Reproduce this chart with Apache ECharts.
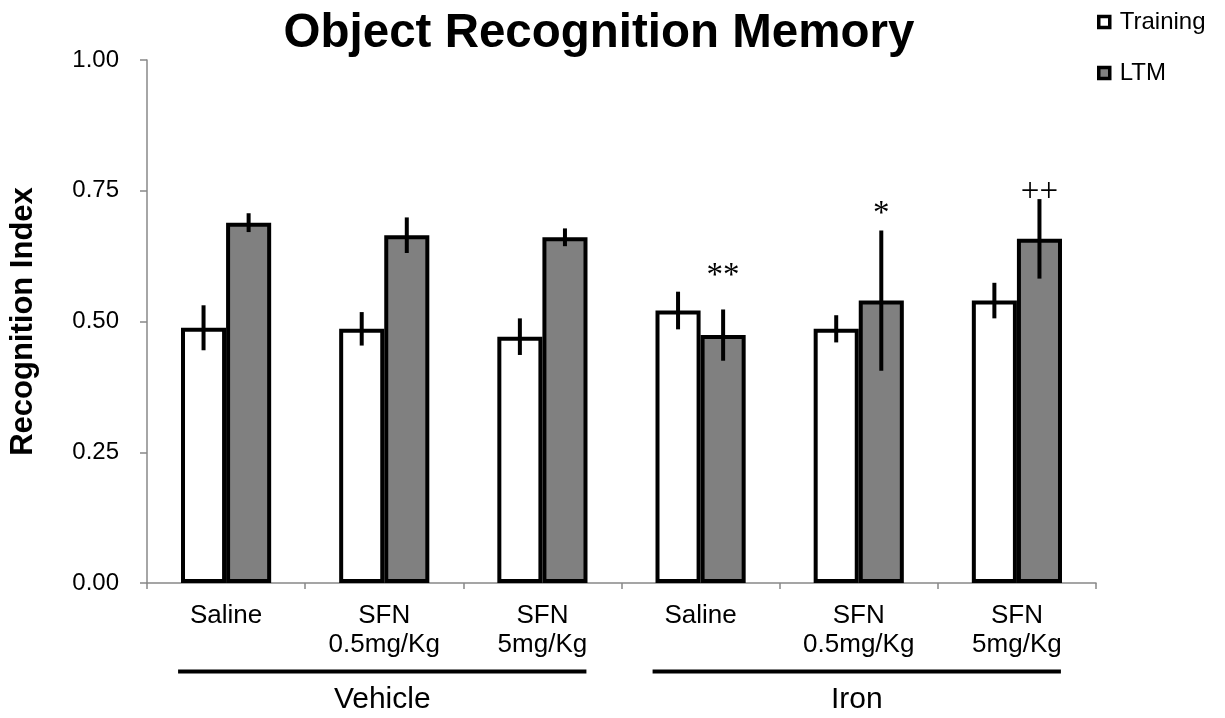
<!DOCTYPE html>
<html>
<head>
<meta charset="utf-8">
<script src="https://cdn.jsdelivr.net/npm/echarts@6/dist/echarts.min.js"></script>
<style>html,body{margin:0;padding:0;background:#fff;}#c{width:1225px;height:718px;}</style>
</head>
<body>
<div id="c"></div>
<script>
const categories = ['Saline', 'SFN\n0.5mg/Kg', 'SFN\n5mg/Kg', 'Saline', 'SFN\n0.5mg/Kg', 'SFN\n5mg/Kg'];
const training = [0.488, 0.486, 0.471, 0.521, 0.486, 0.540];
const trainingErr = [0.043, 0.032, 0.035, 0.036, 0.026, 0.034];
const ltm = [0.689, 0.665, 0.661, 0.474, 0.540, 0.658];
const ltmErr = [0.018, 0.034, 0.017, 0.049, 0.134, 0.076];
const ltmMarks = ['', '', '', '**', '*', '++'];
const ltmMarkY = [null, null, null, 0.587, 0.705, 0.747];
const groups = ['Vehicle', 'Iron'];
const groupFirst = [0, 3];
const groupLast = [2, 5];
const yTicks = [0, 0.25, 0.5, 0.75, 1.0];

const SANS = '"Liberation Sans", Arial, sans-serif';
const BAR_FRAC = 0.285;

function errRender(sign) {
  return function (params, api) {
    const x = api.value(0), v = api.value(1), e = api.value(2);
    const band = api.size([1, 0])[0];
    const off = sign * band * BAR_FRAC / 2;
    const c = api.coord([x, v]);
    const t = api.coord([x, v + e]);
    const b = api.coord([x, v - e]);
    const children = [{
      type: 'line',
      shape: { x1: c[0] + off, y1: t[1], x2: c[0] + off, y2: b[1] },
      style: { stroke: '#000', lineWidth: 4 }
    }];
    const txt = api.value(4);
    const my = api.value(3);
    if (txt && my !== null && !isNaN(my)) {
      const m = api.coord([x, my]);
      children.push({
        type: 'text',
        x: c[0] + off, y: m[1],
        style: { text: txt, fill: '#000', font: '33px "Liberation Serif", "Times New Roman", serif', textAlign: 'center', textVerticalAlign: 'middle' }
      });
    }
    return { type: 'group', children };
  };
}

const chart = echarts.init(document.getElementById('c'), null, { renderer: 'canvas' });
const option = {
  backgroundColor: '#fff',
  animation: false,
  textStyle: { fontFamily: SANS },
  grid: { left: 147, right: 129, top: 60, bottom: 135, containLabel: false, outerBoundsMode: 'none' },
  legend: {
    data: ['Training', 'LTM'],
    orient: 'vertical',
    left: 1092, top: 3,
    icon: 'rect',
    itemWidth: 11, itemHeight: 11,
    itemGap: 23,
    itemStyle: { borderColor: '#000', borderWidth: 3.5 },
    textStyle: { fontSize: 24, color: '#000', fontFamily: SANS, lineHeight: 28, padding: [0, 0, 0, 5] }
  },
  graphic: [{
    type: 'text', x: 599, y: 34,
    style: { text: 'Object Recognition Memory', font: 'bold 47.5px ' + SANS, fill: '#000', textAlign: 'center', textVerticalAlign: 'middle' }
  }],
  xAxis: {
    type: 'category',
    data: categories,
    axisLine: { lineStyle: { color: '#888', width: 1.5 } },
    axisTick: { show: true, length: 6, lineStyle: { color: '#888', width: 1.5 } },
    axisLabel: { fontSize: 26, lineHeight: 29, color: '#000', margin: 18, interval: 0, fontFamily: SANS }
  },
  yAxis: {
    type: 'value',
    min: 0, max: 1, interval: 0.25,
    name: 'Recognition Index',
    nameLocation: 'middle',
    nameGap: 108,
    nameTextStyle: { fontSize: 31, fontWeight: 'bold', color: '#000', fontFamily: SANS },
    axisLine: { show: true, lineStyle: { color: '#888', width: 1.5 } },
    axisTick: { show: true, length: 7, lineStyle: { color: '#888', width: 1.5 } },
    splitLine: { show: false },
    axisLabel: { fontSize: 24, color: '#000', margin: 28, fontFamily: SANS,
      formatter: v => yTicks.indexOf(v) >= 0 ? v.toFixed(2) : '' }
  },
  series: [
    { name: 'Training', type: 'bar', data: training, barWidth: (BAR_FRAC * 100) + '%', barGap: '0%',
      itemStyle: { color: '#fff', borderColor: '#000', borderWidth: 4 }, z: 2 },
    { name: 'LTM', type: 'bar', data: ltm, barWidth: (BAR_FRAC * 100) + '%', barGap: '0%',
      itemStyle: { color: '#808080', borderColor: '#000', borderWidth: 4 }, z: 2 },
    { name: 'TrainingErr', type: 'custom', renderItem: errRender(-1), z: 5,
      encode: { x: 0, y: 1 },
      data: training.map((v, i) => [i, v, trainingErr[i], null, '']) },
    { name: 'LTMErr', type: 'custom', renderItem: errRender(1), z: 5,
      encode: { x: 0, y: 1 },
      data: ltm.map((v, i) => [i, v, ltmErr[i], ltmMarkY[i], ltmMarks[i]]) }
  ]
};
chart.setOption(option);

const extra = [];
groups.forEach((g, k) => {
  const a = chart.convertToPixel({ xAxisIndex: 0 }, groupFirst[k]);
  const b = chart.convertToPixel({ xAxisIndex: 0 }, groupLast[k]);
  const x1 = a - 48, x2 = b + 44;
  extra.push({ type: 'line', shape: { x1, y1: 671.5, x2, y2: 671.5 }, style: { stroke: '#000', lineWidth: 4 } });
  extra.push({ type: 'text', x: (x1 + x2) / 2, y: 700,
    style: { text: g, font: '30px ' + SANS, fill: '#000', textAlign: 'center', textVerticalAlign: 'middle' } });
});
chart.setOption({ graphic: option.graphic.concat(extra) });
</script>
</body>
</html>
